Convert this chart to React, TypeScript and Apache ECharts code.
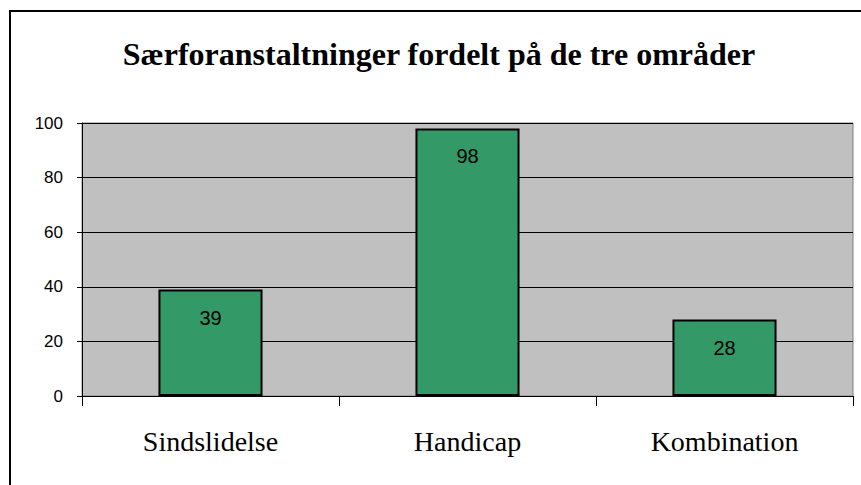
import React, { useEffect, useRef } from "react";
import * as echarts from "echarts";

const title = "Særforanstaltninger fordelt på de tre områder";
const categories = ["Sindslidelse", "Handicap", "Kombination"];
const values = [39, 98, 28];
const yTicks = [0, 20, 40, 60, 80, 100];

export default function App() {
  const ref = useRef<HTMLDivElement>(null);
  useEffect(() => {
    if (!ref.current) return;
    const chart = echarts.init(ref.current, null, { renderer: "svg" });
    chart.setOption({
      animation: false,
      backgroundColor: "#ffffff",
      title: {
        text: title,
        left: 434,
        textAlign: "center",
        top: 33,
        textStyle: {
          fontFamily: "Liberation Serif",
          fontWeight: "bold",
          fontSize: 32,
          color: "#000",
        },
      },
      graphic: [
        {
          type: "rect",
          shape: { x: 10, y: 11, width: 900, height: 600 },
          style: { fill: "none", stroke: "#000", lineWidth: 2 },
          silent: true,
        },
      ],
      grid: {
        left: 82,
        right: 8,
        top: 123,
        bottom: 89,
        show: true,
        backgroundColor: "#C0C0C0",
        borderColor: "#808080",
        borderWidth: 1,
      },
      xAxis: {
        type: "category",
        data: categories,
        boundaryGap: true,
        axisLine: { show: true, lineStyle: { color: "#000", width: 1 } },
        axisTick: { show: true, length: 10, lineStyle: { color: "#000" } },
        axisLabel: {
          margin: 31,
          fontFamily: "Liberation Serif",
          fontSize: 28,
          color: "#000",
        },
      },
      yAxis: {
        type: "value",
        min: yTicks[0],
        max: yTicks[yTicks.length - 1],
        interval: 20,
        axisLine: { show: true, lineStyle: { color: "#000", width: 1 } },
        axisTick: { show: true, length: 5, lineStyle: { color: "#000" } },
        axisLabel: {
          margin: 19,
          fontFamily: "Liberation Sans",
          fontSize: 17,
          color: "#000",
        },
        splitLine: { show: true, lineStyle: { color: "#000", width: 1 } },
      },
      series: [
        {
          type: "bar",
          data: values,
          barWidth: "40.5%",
          itemStyle: { color: "#339966", borderColor: "#000", borderWidth: 2 },
          label: {
            show: true,
            position: "insideTop",
            distance: 18,
            fontFamily: "Liberation Sans",
            fontSize: 20,
            color: "#000",
          },
        },
      ],
    });
    return () => chart.dispose();
  }, []);
  return (
    <div
      ref={ref}
      style={{ position: "fixed", left: 0, top: 0, width: 861, height: 485 }}
    />
  );
}
